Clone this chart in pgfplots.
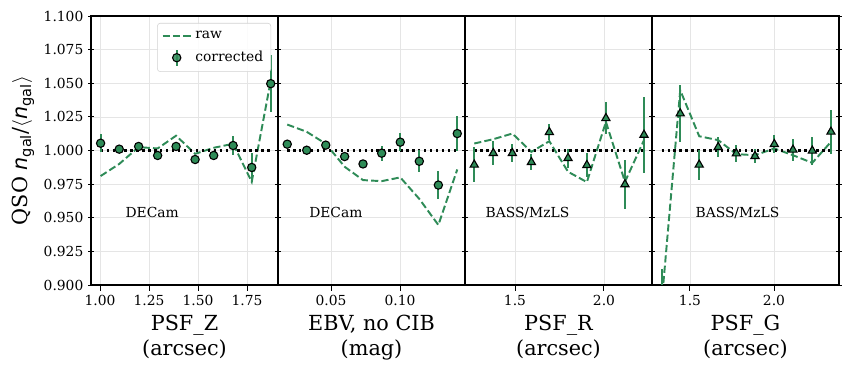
\documentclass[border=0pt]{standalone}
\usepackage{fontspec}
\setmainfont{DejaVu Serif}
\newfontfamily\dvs{DejaVu Sans}
\usepackage{amsmath}
\usepackage{pgfplots}
\pgfplotsset{compat=1.18}
\usepgfplotslibrary{groupplots}
\usetikzlibrary{calc}
\definecolor{seagreen}{RGB}{46,139,87}

% x, corrected, error, raw
\pgfplotstableread{
x      c       e       r
1.003  1.0054  0.0065  0.9810
1.098  1.0010  0.0020  0.9900
1.197  1.0030  0.0020  1.0025
1.294  0.9963  0.0020  1.0015
1.388  1.0030  0.0020  1.0110
1.485  0.9933  0.0020  0.9975
1.580  0.9963  0.0025  1.0020
1.679  1.0037  0.0070  1.0050
1.774  0.9874  0.0110  0.9767
1.871  1.0497  0.0210  1.0520
}\psfz
\pgfplotstableread{
x       c       e       r
0.0183  1.0047  0.0020  1.0193
0.0324  1.0002  0.0020  1.0139
0.0462  1.0040  0.0020  1.0050
0.0599  0.9955  0.0020  0.9879
0.0732  0.9900  0.0030  0.9780
0.0867  0.9980  0.0056  0.9772
0.1002  1.0062  0.0067  0.9800
0.1140  0.9920  0.0080  0.9640
0.1278  0.9743  0.0104  0.9446
0.1415  1.0126  0.0130  0.9859
}\ebv
\pgfplotstableread{
x      c       e       r
1.271  0.9894  0.0130  1.0052
1.378  0.9980  0.0087  1.0084
1.485  0.9980  0.0067  1.0126
1.592  0.9913  0.0060  0.9990
1.693  1.0136  0.0060  1.0069
1.798  0.9943  0.0070  0.9842
1.904  0.9891  0.0090  0.9765
2.011  1.0240  0.0120  1.0213
2.118  0.9748  0.0180  0.9767
2.225  1.0116  0.0280  1.0077
}\psfr
\pgfplotstableread{
x      c       e       r
1.331  0.8700  0.0420  0.8860
1.442  1.0275  0.0210  1.0448
1.555  0.9894  0.0110  1.0106
1.668  1.0025  0.0074  1.0077
1.776  0.9978  0.0060  0.9973
1.887  0.9958  0.0050  0.9965
2.002  1.0047  0.0068  1.0015
2.113  1.0005  0.0080  0.9965
2.228  0.9998  0.0105  0.9908
2.339  1.0139  0.0165  1.0064
}\psfg

\pgfplotsset{
  rawline/.style={seagreen, line width=1.4pt, dash pattern=on 5.2pt off 2.3pt, no markers},
  onedot/.style={black, line width=1.7pt, dash pattern=on 1.7pt off 2.6pt, no markers},
  corr/.style={only marks, mark=#1, mark size=3pt,
    mark options={fill=seagreen, draw=black, line width=0.8pt, solid},
    error bars/.cd, y dir=both, y explicit, error mark=none,
    error bar style={seagreen, line width=1.4pt}, /pgfplots/.cd},
  tri/.style={corr=triangle*, mark size=3.4pt},
  rawleg/.style={legend image code/.code={
    \draw[##1] (0cm,0cm) -- (0.72cm,0cm);}},
  corrleg/.style={legend image code/.code={
    \draw[seagreen, line width=1.4pt] (0.36cm,-0.2cm) -- (0.36cm,0.2cm);
    \draw[mark repeat=2, mark phase=2, ##1] plot coordinates {(0cm,0cm) (0.36cm,0cm) (0.72cm,0cm)};}},
}

\begin{document}
\begin{tikzpicture}
\begin{groupplot}[
  group style={group size=4 by 1, horizontal sep=0pt, y descriptions at=edge left},
  scale only axis, width=135.15pt, height=194.41pt,
  ymin=0.9, ymax=1.1,
  ytick={0.9,0.925,0.95,0.975,1.0,1.025,1.05,1.075,1.1},
  yticklabel style={/pgf/number format/.cd, fixed, fixed zerofill, precision=3},
  /pgf/number format/assume math mode=true,
  ticklabel style={font=\fontsize{10}{12}\selectfont},
  label style={font=\fontsize{15}{18}\selectfont, align=center},
  grid=major, grid style={gray!20, line width=0.5pt},
  axis line style={line width=0.9pt},
  tick style={black, line width=0.7pt},
  major tick length=4pt,
  xtick pos=bottom, ytick pos=both, xtick align=outside, ytick align=center,
  clip mode=individual,
]
\nextgroupplot[
  xmin=0.954, xmax=1.908, xtick={1.0,1.25,1.5,1.75},
  xticklabel style={/pgf/number format/.cd, fixed, fixed zerofill, precision=2},
  xlabel={PSF\_Z\\(arcsec)},
  ylabel={QSO {\dvs\itshape n}$_{\text{\dvs gal}}$/$\langle${\dvs\itshape n}$_{\text{\dvs gal}}\rangle$},
  legend style={at={(rel axis cs:0.963,0.974)}, anchor=north east, draw=gray!35,
    rounded corners=2pt, fill=white, fill opacity=0.85, text opacity=1,
    font=\fontsize{10}{12}\selectfont, row sep=3pt, inner sep=3pt,
    nodes={inner sep=2.5pt}},
  legend cell align=left,
]
\coordinate (sw) at (rel axis cs:0,0);
\addplot[rawline, rawleg] table[x=x, y=r] {\psfz};
\addlegendentry{raw}
\addplot[onedot, forget plot] coordinates {(1.003,1.0) (1.871,1.0)};
\addplot[corrleg, corr=*] table[x=x, y=c, y error=e] {\psfz};
\addlegendentry{corrected}
\node[anchor=west, font=\fontsize{10}{12}\selectfont] at (rel axis cs:0.159,0.268) {DECam};

\nextgroupplot[
  xmin=0.0116, xmax=0.1471, xtick={0.05,0.10},
  xticklabel style={/pgf/number format/.cd, fixed, fixed zerofill, precision=2},
  xlabel={EBV, no CIB\\(mag)},
]
\addplot[rawline] table[x=x, y=r] {\ebv};
\addplot[onedot] coordinates {(0.0183,1.0) (0.1415,1.0)};
\addplot[corr=*] table[x=x, y=c, y error=e] {\ebv};
\node[anchor=west, font=\fontsize{10}{12}\selectfont] at (rel axis cs:0.141,0.268) {DECam};

\nextgroupplot[
  xmin=1.219, xmax=2.270, xtick={1.5,2.0},
  xticklabel style={/pgf/number format/.cd, fixed, fixed zerofill, precision=1},
  xlabel={PSF\_R\\(arcsec)},
]
\addplot[rawline] table[x=x, y=r] {\psfr};
\addplot[onedot] coordinates {(1.271,1.0) (2.225,1.0)};
\addplot[tri] table[x=x, y=c, y error=e] {\psfr};
\node[anchor=west, font=\fontsize{10}{12}\selectfont] at (rel axis cs:0.084,0.268) {BASS/MzLS};

\nextgroupplot[
  xmin=1.274, xmax=2.387, xtick={1.5,2.0},
  xticklabel style={/pgf/number format/.cd, fixed, fixed zerofill, precision=1},
  xlabel={PSF\_G\\(arcsec)},
]
\coordinate (ne) at (rel axis cs:1,1);
\addplot[rawline] table[x=x, y=r] {\psfg};
\addplot[onedot] coordinates {(1.331,1.0) (2.339,1.0)};
\addplot[tri] table[x=x, y=c, y error=e] {\psfg};
\node[anchor=west, font=\fontsize{10}{12}\selectfont] at (rel axis cs:0.207,0.268) {BASS/MzLS};
\end{groupplot}
\pgfresetboundingbox
\path ($(sw)+(-65.77pt,-62.15pt)$) rectangle ($(ne)+(7.23pt,11.56pt)$);
\end{tikzpicture}
\end{document}
